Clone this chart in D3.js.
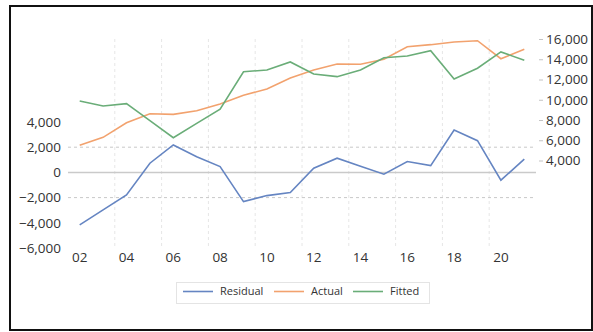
<!DOCTYPE html>
<html>
<head>
<meta charset="utf-8">
<script src="https://cdn.jsdelivr.net/npm/d3@7/dist/d3.min.js"></script>
<style>
  html, body { margin: 0; padding: 0; background: #fff; }
  svg text { font-family: "Open Sans", "DejaVu Sans", sans-serif; fill: #333; }
</style>
</head>
<body>
<svg id="chart" width="593" height="332"></svg>
<script>
// Years 2002–2021 (shown as two-digit labels)
const years = [2002, 2003, 2004, 2005, 2006, 2007, 2008, 2009, 2010, 2011,
               2012, 2013, 2014, 2015, 2016, 2017, 2018, 2019, 2020, 2021];

// Residual series (left axis)
const residual = [-4170, -2980, -1790, 730, 2180, 1250, 460, -2320, -1840, -1600,
                  330, 1130, 490, -140, 860, 540, 3370, 2520, -620, 1050];

// Actual and fitted series (right axis)
const actual = [5500, 6290, 7730, 8620, 8560, 8920, 9580, 10440, 11060, 12150,
                12940, 13530, 13500, 14000, 15240, 15440, 15700, 15830, 14050, 14980];
const fitted = [9880, 9380, 9610, 7930, 6250, 7670, 9060, 12770, 12940, 13730,
                12540, 12280, 12940, 14150, 14320, 14840, 12050, 13110, 14720, 13900];

// Axis ticks
const leftTicks = [-6000, -4000, -2000, 0, 2000, 4000];
const rightTicks = [4000, 6000, 8000, 10000, 12000, 14000, 16000];
const bandLines = [-2000, 2000];
const xLabelYears = years.filter(y => y % 2 === 0);

const seriesNames = ["Residual", "Actual", "Fitted"];
const colors = { Residual: "#6585c2", Actual: "#f2a26e", Fitted: "#6aad78" };

const svg = d3.select("#chart");

// Outer frame
svg.append("rect")
  .attr("x", 10).attr("y", 6).attr("width", 582).attr("height", 324)
  .attr("fill", "#fff").attr("stroke", "#111").attr("stroke-width", 2);

// Scales
const x = d3.scaleBand().domain(years).range([68, 536]).paddingInner(0).paddingOuter(0);
const xc = d => x(d) + x.bandwidth() / 2;
const yL = d3.scaleLinear().domain([-6000, 4000]).range([248, 122]);
const yR = d3.scaleLinear().domain([4000, 16000]).range([160.5, 39]);

const plotTop = yR(16000), plotBottom = yL(-6000);
const plotLeft = x.range()[0], plotRight = x.range()[1];

// Vertical dashed gridlines at every second category boundary
const gridBounds = d3.range(2, years.length, 2).map(k => plotLeft + k * x.step());
svg.append("g").selectAll("line").data(gridBounds).join("line")
  .attr("x1", d => d).attr("x2", d => d)
  .attr("y1", plotTop).attr("y2", plotBottom)
  .attr("stroke", "#e6e6e6").attr("stroke-width", 1)
  .attr("stroke-dasharray", "3,3");

// Zero line and ±2000 band lines
svg.append("line")
  .attr("x1", plotLeft).attr("x2", plotRight)
  .attr("y1", yL(0)).attr("y2", yL(0))
  .attr("stroke", "#cacaca").attr("stroke-width", 1.5);
svg.append("g").selectAll("line").data(bandLines).join("line")
  .attr("x1", plotLeft).attr("x2", plotRight)
  .attr("y1", d => yL(d)).attr("y2", d => yL(d))
  .attr("stroke", "#c8c8c8").attr("stroke-width", 1)
  .attr("stroke-dasharray", "3,3");

// Left axis labels
const axisLeft = d3.axisLeft(yL).tickValues(leftTicks).tickSize(0).tickPadding(0)
  .tickFormat(d3.format(",d"));
const gL = svg.append("g").attr("transform", "translate(61,0)").call(axisLeft);
gL.select(".domain").remove();
gL.selectAll("text").style("font-size", "13.5px").attr("fill", "#333");

// Right axis with short tick marks
const axisRight = d3.axisRight(yR).tickValues(rightTicks).tickSize(4).tickPadding(3)
  .tickFormat(d3.format(",d"));
const gR = svg.append("g").attr("transform", "translate(539,0)").call(axisRight);
gR.select(".domain").remove();
gR.selectAll("line").attr("stroke", "#c4c4c4");
gR.selectAll("text").style("font-size", "13.5px").attr("fill", "#333");

// Bottom labels
const axisBottom = d3.axisBottom(x).tickValues(xLabelYears).tickSize(0).tickPadding(0)
  .tickFormat(d => String(d % 100).padStart(2, "0"));
const gB = svg.append("g").attr("transform", "translate(0,252)").call(axisBottom);
gB.select(".domain").remove();
gB.selectAll("text").style("font-size", "13.5px").attr("fill", "#333");

// Series lines
const lineL = d3.line().x((d, i) => xc(years[i])).y(d => yL(d));
const lineR = d3.line().x((d, i) => xc(years[i])).y(d => yR(d));

svg.append("path").datum(residual).attr("d", lineL)
  .attr("fill", "none").attr("stroke", colors.Residual).attr("stroke-width", 1.6);
svg.append("path").datum(actual).attr("d", lineR)
  .attr("fill", "none").attr("stroke", colors.Actual).attr("stroke-width", 1.6);
svg.append("path").datum(fitted).attr("d", lineR)
  .attr("fill", "none").attr("stroke", colors.Fitted).attr("stroke-width", 1.6);

// Legend
const legend = svg.append("g");
legend.append("rect")
  .attr("x", 176.5).attr("y", 282.5).attr("width", 253).attr("height", 21)
  .attr("fill", "#fff").attr("stroke", "#e4e4e4").attr("stroke-width", 1);
const legendX = [183, 274, 353];
seriesNames.forEach((name, i) => {
  legend.append("line")
    .attr("x1", legendX[i]).attr("x2", legendX[i] + 30)
    .attr("y1", 291.5).attr("y2", 291.5)
    .attr("stroke", colors[name]).attr("stroke-width", 1.6);
  legend.append("text")
    .attr("x", legendX[i] + 37).attr("y", 295)
    .style("font-size", "11px")
    .attr("fill", "#444")
    .text(name);
});
</script>
</body>
</html>
